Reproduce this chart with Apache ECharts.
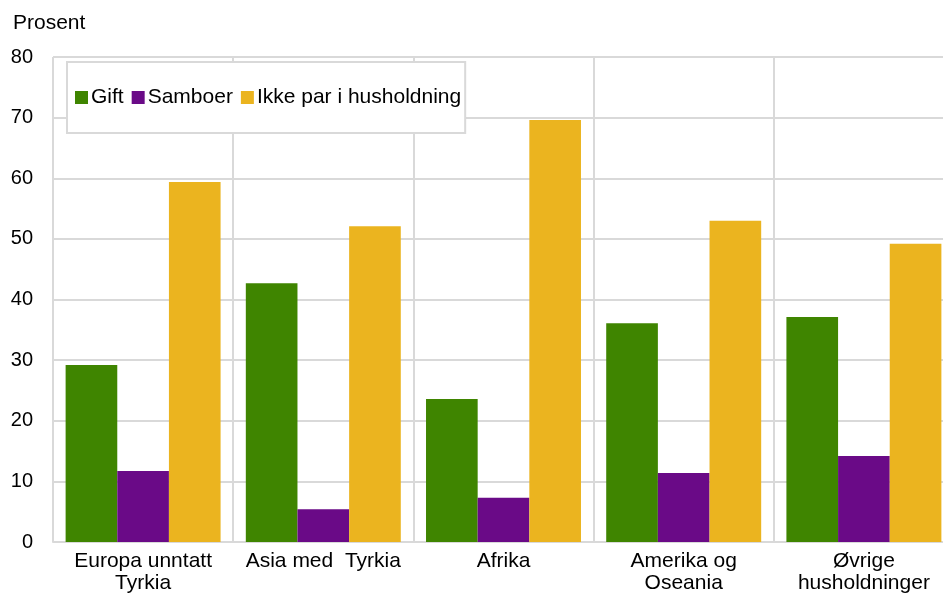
<!DOCTYPE html>
<html>
<head>
<meta charset="utf-8">
<script src="https://cdn.jsdelivr.net/npm/echarts@6/dist/echarts.min.js"></script>
<style>html,body{margin:0;padding:0;background:#fff}#c{width:943px;height:594px}</style>
</head>
<body>
<div id="c"></div>
<script>
const categories = ['Europa unntatt\nTyrkia', 'Asia med  Tyrkia', 'Afrika', 'Amerika og\nOseania', 'Øvrige\nhusholdninger'];
const gift = [29.2, 42.7, 23.6, 36.1, 37.1];
const samboer = [11.7, 5.4, 7.3, 11.4, 14.2];
const ikkePar = [59.4, 52.1, 69.6, 53.0, 49.2];
const seriesNames = ['Gift', 'Samboer', 'Ikke par i husholdning'];
const colors = ['#3f8500', '#6a0a87', '#ebb41f'];

const chart = echarts.init(document.getElementById('c'));
const font = 'Liberation Sans, Arial, sans-serif';
const mk = (name, data, i) => ({
  name, type: 'bar', data, barGap: '0%', barCategoryGap: '14%',
  itemStyle: { color: colors[i] }
});
chart.setOption({
  animation: false,
  textStyle: { fontFamily: font },
  grid: { left: 53, top: 57, width: 901, height: 485, containLabel: false, outerBoundsMode: 'none' },
  title: { text: 'Prosent', left: 8, top: 8, textStyle: { fontSize: 21, fontWeight: 'normal', color: '#000', fontFamily: font } },
  legend: {
    left: 67, top: 62,
    padding: [25, 4, 25, 8],
    borderColor: '#d9d9d9', borderWidth: 2, backgroundColor: '#fff',
    itemWidth: 13, itemHeight: 13, itemGap: 8, icon: 'rect',
    textStyle: { fontSize: 21, color: '#000', fontFamily: font, padding: [0, 0, 0, -2] },
    data: seriesNames
  },
  xAxis: {
    type: 'category', data: categories,
    axisLine: { show: true, lineStyle: { color: '#d9d9d9', width: 2 } },
    axisTick: { show: false },
    splitLine: { show: true, lineStyle: { color: '#d9d9d9', width: 2 } },
    axisLabel: { fontSize: 21, color: '#000', fontFamily: font, lineHeight: 22, margin: 8, interval: 0 }
  },
  yAxis: {
    type: 'value', min: 0, max: 80, interval: 10,
    axisLine: { show: false }, axisTick: { show: false },
    splitLine: { lineStyle: { color: '#d9d9d9', width: 2 } },
    axisLabel: { fontSize: 20, color: '#000', fontFamily: font, margin: 20 }
  },
  series: [mk(seriesNames[0], gift, 0), mk(seriesNames[1], samboer, 1), mk(seriesNames[2], ikkePar, 2)]
});
</script>
</body>
</html>
